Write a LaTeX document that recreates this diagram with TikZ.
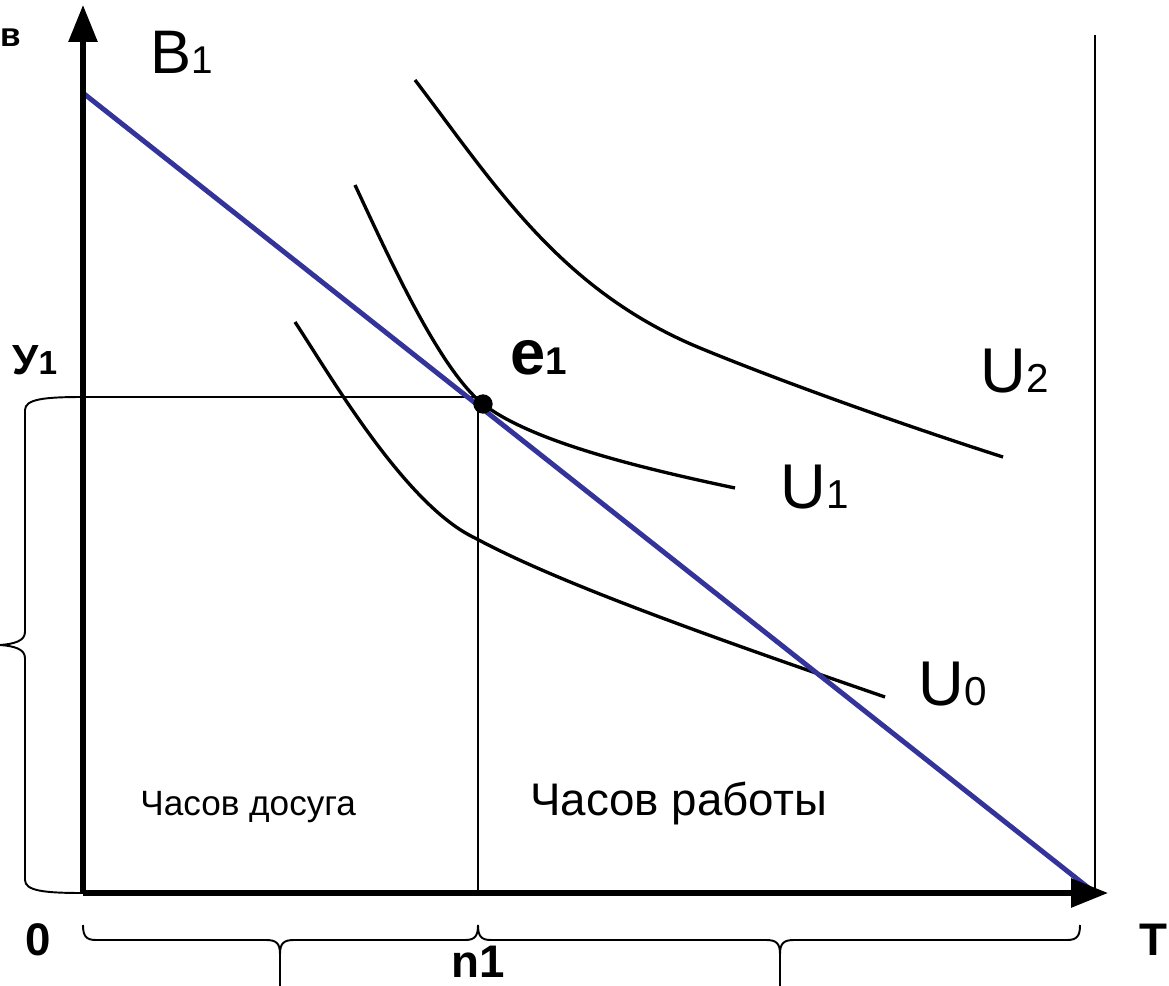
\documentclass[tikz,border=0pt]{standalone}
\usepackage{fontspec}
\setmainfont{Liberation Sans}
\usetikzlibrary{arrows.meta}
\definecolor{budget}{RGB}{51,51,153}
\newcommand{\fs}[1]{\fontsize{#1}{#1}\selectfont}
\tikzset{
  axis/.style={line width=3pt,-{Triangle[length=21pt,width=16pt]}},
  thin line/.style={line width=1.1pt},
  curve/.style={line width=1.9pt},
  bline/.style={line width=2.8pt,draw=budget},
  lbl/.style={inner sep=0pt,anchor=base west},
  brace/.style={line width=1.1pt}
}
\begin{document}
\begin{tikzpicture}[x=0.02cm,y=-0.02cm]
\useasboundingbox (0,0) rectangle (1169,986);
\coordinate (O) at (83,893);
\coordinate (Ytop) at (83,5);
\coordinate (Xend) at (1108,893);
\coordinate (B1) at (83,93);
\coordinate (Bend) at (1095,893);
\coordinate (R1) at (1095,35);
\coordinate (Y1) at (83,397);
\coordinate (E) at (478,397);
\coordinate (N1) at (478,893);
% thin lines
\draw[thin line] (R1) -- (Bend);
\draw[thin line] (Y1) -- (E) -- (N1);
% indifference curves
\draw[curve] (415,80) .. controls (495,185) and (560,290) .. (700,348)
                     .. controls (780,381) and (900,424) .. (1003,457);
\draw[curve] (355,185) .. controls (390,260) and (440,370) .. (483,404)
                     .. controls (533,443) and (650,470) .. (735,488);
\draw[curve] (295,322) .. controls (330,375) and (405,505) .. (475,538)
                     .. controls (560,584) and (720,640) .. (885,697);
% budget line
\draw[bline] (B1) -- (Bend);
% axes
\draw[axis] (O) -- (Ytop);
\draw[axis] (O) -- (Xend);
% equilibrium point
\node[circle,fill=black,inner sep=0pt,minimum size=11pt] (e) at (483,404) {};
% left brace
\draw[brace] (Y1) .. controls (45,397) and (25,399) .. (25,410) -- (25,632) .. controls (25,641) and (14,644) .. (0,645);
\draw[brace] (O) .. controls (45,893) and (25,891) .. (25,880) -- (25,658) .. controls (25,649) and (14,646) .. (0,645);
% bottom braces
\draw[brace] (83,925) .. controls (83,936) and (86,940) .. (96,940) -- (266,940) .. controls (276,940) and (280,943) .. (280,954) -- (280,986);
\draw[brace] (478,925) .. controls (478,936) and (475,940) .. (465,940) -- (294,940) .. controls (284,940) and (280,943) .. (280,954);
\draw[brace] (478,925) .. controls (478,936) and (481,940) .. (491,940) -- (766,940) .. controls (776,940) and (780,943) .. (780,954) -- (780,986);
\draw[brace] (1080,925) .. controls (1080,936) and (1077,940) .. (1067,940) -- (794,940) .. controls (784,940) and (780,943) .. (780,954);
% labels
\node[lbl,anchor=base east] (lv) at (21,47) {\fs{19pt}\bfseries в};
\node[lbl] (lB1) at (150,74) {\fs{35pt}B\fs{22pt}1};
\node[lbl] (lY1) at (12,375) {\fs{24pt}\bfseries У\fs{19pt}1};
\node[lbl] (le1) at (510,375) {\fs{36pt}\bfseries e\fs{22pt}1};
\node[lbl] (lU2) at (980,392) {\fs{36pt}U\fs{23pt}2};
\node[lbl] (lU1) at (780,508) {\fs{36pt}U\fs{23pt}1};
\node[lbl] (lU0) at (918,705) {\fs{36pt}U\fs{23pt}0};
\node[lbl] (l0) at (25,955) {\fs{26pt}\bfseries 0};
\node[lbl,anchor=base] (ln1) at (478,977) {\fs{26pt}\bfseries n1};
\node[lbl,anchor=base east] (lT) at (1168,955) {\fs{26pt}\bfseries T};
\node[lbl] (ld) at (140,815) {\fs{20pt}Часов досуга};
\node[lbl] (lw) at (530,815) {\fs{26pt}Часов работы};
\end{tikzpicture}
\end{document}
